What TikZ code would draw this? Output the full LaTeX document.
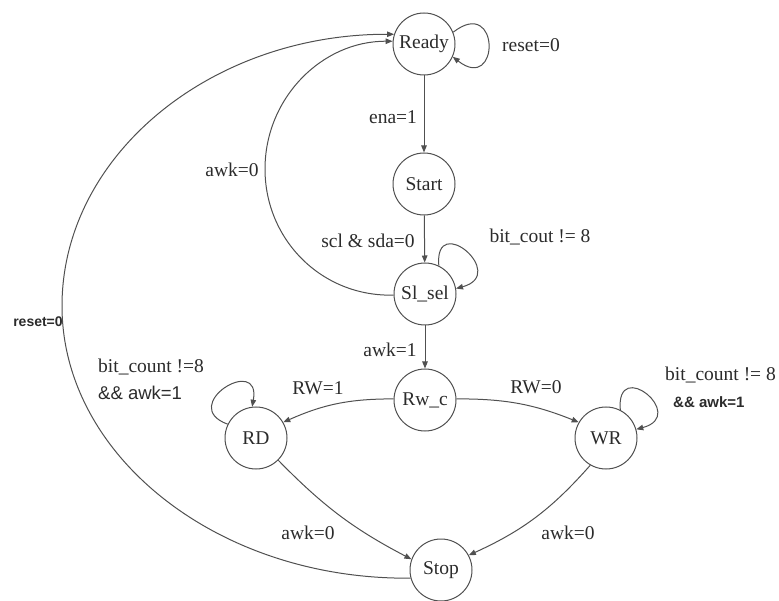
\documentclass[tikz,border=0pt]{standalone}
\usepackage{fontspec}
\setmainfont{Liberation Serif}
\newfontfamily\lserif{Liberation Serif}
\newfontfamily\lsans{Liberation Sans}
\usetikzlibrary{arrows.meta}
\definecolor{linegray}{HTML}{505050}
\definecolor{txt}{HTML}{2B2B2B}
\begin{document}
\begin{tikzpicture}[x=1pt,y=1pt,
  state/.style={circle, draw=linegray, line width=1pt, minimum size=62pt,
    inner sep=0pt, font=\lserif\fontsize{19.5}{20}\selectfont, text=txt},
  edge/.style={draw=linegray, line width=1pt,
    -{Triangle[length=7pt,width=5.5pt]}},
  lbl/.style={font=\lserif\fontsize{19.5}{20}\selectfont, text=txt, inner sep=0pt},
  sanslbl/.style={font=\lsans\fontsize{18.5}{19}\selectfont, text=txt, inner sep=0pt},
  boldlbl/.style={font=\lsans\bfseries\fontsize{14}{15}\selectfont, text=txt, inner sep=0pt}]

\useasboundingbox (0,0) rectangle (779,-601);

% states
\node[state] (Ready) at (424,-44)  {Ready};
\node[state] (Start) at (424,-184) {Start};
\node[state] (Slsel) at (425,-294) {Sl\_sel};
\node[state] (Rwc)   at (425,-400) {Rw\_c};
\node[state] (RD)    at (256,-438) {RD};
\node[state] (WR)    at (606,-438) {WR};
\node[state] (Stop)  at (441,-570) {Stop};

% main chain
\draw[edge] (Ready) -- (Start);
\draw[edge] (Start) -- (Slsel);
\draw[edge] (Slsel) -- (Rwc);

% self loops
\draw[edge] (Ready.22) to[out=38, in=-38, distance=60pt] (Ready.-24);
\draw[edge] (Slsel.64) to[out=95, in=15, distance=55pt] (Slsel.10);
\draw[edge] (RD.154) to[out=160, in=80, distance=54pt] (RD.97);
\draw[edge] (WR.63) to[out=95, in=15, distance=54pt] (WR.16);

% branches
\draw[edge] (Rwc.178) to[bend right=12] (RD.30);
\draw[edge] (Rwc.2) to[bend left=11] (WR.150);
\draw[edge] (RD.-45) to[bend right=9] (Stop.160);
\draw[edge] (WR.240) to[bend left=12] (Stop.28);

% return arcs
\draw[edge] (Slsel.182) .. controls (322,-297) and (265,-240) .. (265,-169)
  .. controls (265,-98) and (322,-41) .. (Ready.175);
\draw[edge] (Stop.195) .. controls (218,-580) and (62,-456) .. (62,-306)
  .. controls (62,-156) and (210,-34) .. (Ready.162);

% transition conditions
\node[lbl] (lReset) at (531,-45)  {reset=0};
\node[lbl] (lEna)   at (393,-117) {ena=1};
\node[lbl] (lScl)   at (368,-241) {scl \& sda=0};
\node[lbl] (lBit)   at (540,-237) {bit\_cout != 8};
\node[lbl] (lAwkA)  at (232,-170) {awk=0};
\node[lbl] (lAwkB)  at (390,-350) {awk=1};
\node[lbl] (lRWa)   at (318,-388) {RW=1};
\node[lbl] (lRWb)   at (536,-387) {RW=0};
\node[lbl, anchor=west] (lRDbit) at (98,-367) {bit\_count !=8};
\node[sanslbl, anchor=west] (lRDawk) at (98,-393) {\&\& awk=1};
\node[lbl, anchor=west] (lWRbit) at (665,-375) {bit\_count != 8};
\node[boldlbl, anchor=west, font=\lsans\bfseries\fontsize{15}{16}\selectfont] (lWRawk) at (673,-402) {\&\& awk=1};
\node[lbl] (lAwkC)  at (308,-533) {awk=0};
\node[lbl] (lAwkD)  at (568,-533) {awk=0};
\node[boldlbl] (lResetL) at (38,-322) {reset=0};
\end{tikzpicture}
\end{document}
